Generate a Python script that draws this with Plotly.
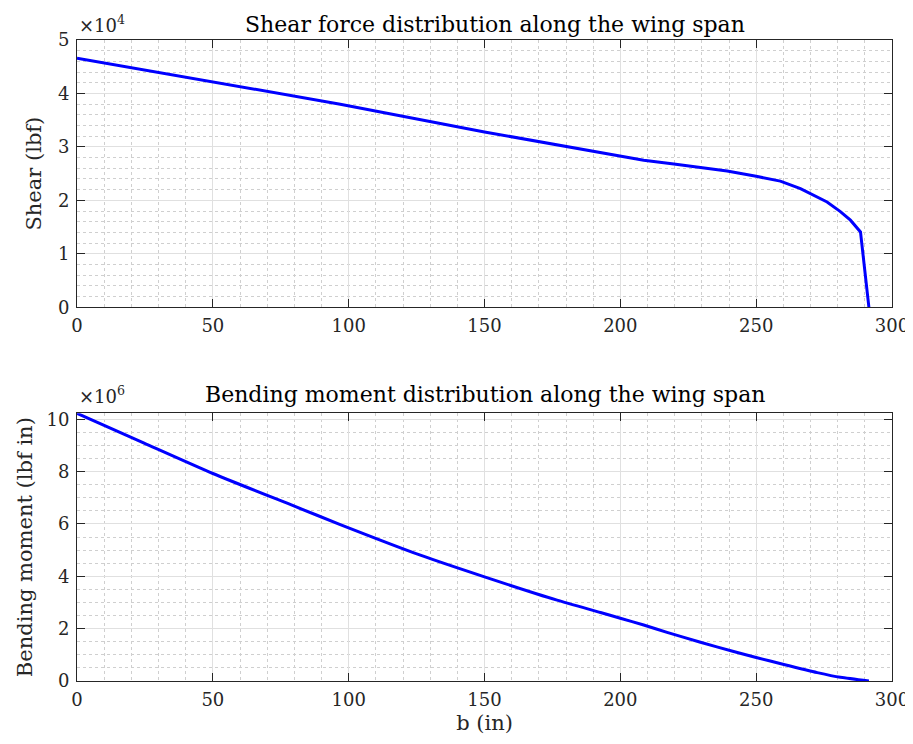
import plotly.graph_objects as go
from plotly.subplots import make_subplots

# ---- data ----
b_shear = [0, 50, 96.9, 150, 192.6, 200, 208.6, 219.7, 229.5, 239.3, 250, 258.9,
           266.3, 271.2, 276.1, 281, 284.7, 288.4, 291.5]
shear = [4.66e4, 4.22e4, 3.80e4, 3.28e4, 2.89e4, 2.83e4, 2.75e4, 2.68e4, 2.62e4,
         2.55e4, 2.45e4, 2.36e4, 2.22e4, 2.10e4, 1.97e4, 1.79e4, 1.63e4, 1.41e4, 0]

b_moment = [0, 24.5, 50, 79.8, 96.9, 126.4, 150, 176.7, 192.7, 200, 208.6, 217.2,
            229.5, 241.7, 250, 260.2, 272.5, 281, 291.5]
moment = [10.23e6, 9.10e6, 7.93e6, 6.69e6, 5.98e6, 4.81e6, 3.98e6, 3.09e6, 2.62e6,
          2.40e6, 2.14e6, 1.86e6, 1.48e6, 1.13e6, 0.90e6, 0.63e6, 0.32e6, 0.14e6, 0]

x_ticks = [0, 50, 100, 150, 200, 250, 300]
shear_ticks = [0, 1e4, 2e4, 3e4, 4e4, 5e4]
shear_ticktext = ["0", "1", "2", "3", "4", "5"]
moment_ticks = [0, 2e6, 4e6, 6e6, 8e6, 10e6]
moment_ticktext = ["0", "2", "4", "6", "8", "10"]

FONT = "DejaVu Serif"
DARK = "#262626"
MAJ = "#e0e0e0"
MIN = "#cfcfcf"

fig = make_subplots(rows=2, cols=1, vertical_spacing=0.165)

fig.add_trace(go.Scatter(x=b_shear, y=shear, mode="lines",
                         line=dict(color="#0000ff", width=3), showlegend=False), row=1, col=1)
fig.add_trace(go.Scatter(x=b_moment, y=moment, mode="lines",
                         line=dict(color="#0000ff", width=3, shape="spline", smoothing=0.6),
                         showlegend=False), row=2, col=1)

common_axis = dict(showline=True, linecolor=DARK, linewidth=1, mirror="ticks",
                   ticks="inside", ticklen=8, tickcolor=DARK, tickwidth=1,
                   showgrid=True, gridcolor=MAJ, gridwidth=1, zeroline=False,
                   automargin=False,
                   tickfont=dict(family=FONT, size=18, color=DARK))

fig.update_xaxes(range=[0, 300], tickvals=x_ticks, ticklabelstandoff=2,
                 minor=dict(dtick=10, showgrid=True, gridcolor=MIN, griddash="dot",
                            gridwidth=1, ticks=""),
                 **common_axis)
fig.update_xaxes(row=2, col=1, title=dict(text="b (in)", font=dict(family=FONT, size=21, color=DARK),
                                           standoff=6))

fig.update_yaxes(row=1, col=1, range=[0, 5e4], tickvals=shear_ticks, ticktext=shear_ticktext,
                 ticklabelstandoff=3,
                 minor=dict(dtick=2000, showgrid=True, gridcolor=MIN, griddash="dot",
                            gridwidth=1, ticks=""),
                 title=dict(text="Shear (lbf)", font=dict(family=FONT, size=21, color=DARK),
                            standoff=10),
                 **common_axis)
fig.update_yaxes(row=2, col=1, range=[0, 10.23e6], tickvals=moment_ticks, ticktext=moment_ticktext,
                 ticklabelstandoff=3,
                 minor=dict(dtick=5e5, showgrid=True, gridcolor=MIN, griddash="dot",
                            gridwidth=1, ticks=""),
                 title=dict(text="Bending moment (lbf in)", font=dict(family=FONT, size=21, color=DARK),
                            standoff=8),
                 **common_axis)

# the page body adds an 8px margin, so the figure is sized/offset to compensate
fig.update_layout(
    width=905, height=736,
    margin=dict(l=69, r=21, t=32, b=63),
    paper_bgcolor="white", plot_bgcolor="white",
    font=dict(family=FONT, color=DARK),
    annotations=[
        dict(text="Shear force distribution along the wing span", xref="paper", yref="paper",
             x=0.5, y=1.0, xanchor="center", yanchor="bottom", xshift=10, yshift=1, showarrow=False,
             font=dict(family=FONT, size=22, color="black")),
        dict(text="Bending moment distribution along the wing span", xref="paper", yref="paper",
             x=0.5, y=0.4176, xanchor="center", yanchor="bottom", yshift=4, showarrow=False,
             font=dict(family=FONT, size=22, color="black")),
        dict(text="×10<sup>4</sup>", xref="paper", yref="paper", x=0, y=1.0,
             xanchor="left", yanchor="bottom", yshift=2, showarrow=False,
             font=dict(family=FONT, size=18, color=DARK)),
        dict(text="×10<sup>6</sup>", xref="paper", yref="paper", x=0, y=0.4176,
             xanchor="left", yanchor="bottom", yshift=4, showarrow=False,
             font=dict(family=FONT, size=18, color=DARK)),
    ],
)
fig.update_yaxes(row=1, col=1, domain=[0.583, 1.0])
fig.update_yaxes(row=2, col=1, domain=[0.0, 0.4176])

fig.write_html("out.html")
